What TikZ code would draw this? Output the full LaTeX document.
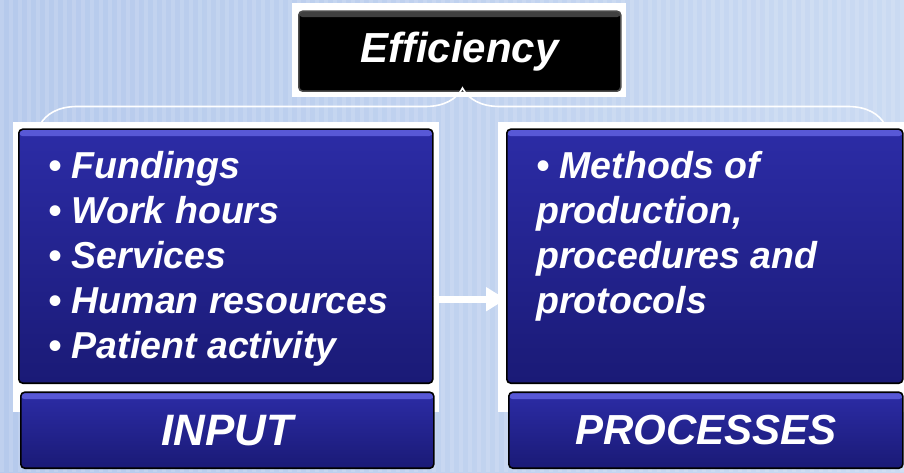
\documentclass[tikz,border=0pt]{standalone}
\usepackage{fontspec}
\setmainfont{Liberation Sans}
\usetikzlibrary{positioning,arrows.meta,decorations.pathreplacing}

\definecolor{slidebg}{RGB}{202,218,242}
\definecolor{slidebgdark}{RGB}{182,202,236}
\definecolor{boxtop}{RGB}{44,44,166}
\definecolor{boxbot}{RGB}{26,26,118}
\definecolor{bevel}{RGB}{88,88,214}

\begin{document}
\begin{tikzpicture}[
    x=1pt, y=1pt,
    frame/.style={fill=white, inner sep=0pt, anchor=south west},
    panel/.style={draw=black, line width=1.6pt, rounded corners=4pt, top color=boxtop, bottom color=boxbot,
        inner sep=0pt, anchor=south west, text=white, font=\fontsize{44}{50}\selectfont\bfseries\itshape,
        path picture={\fill[bevel] (path picture bounding box.north west) rectangle ([yshift=-7pt]path picture bounding box.north east);}},
    effbox/.style={draw=black!70, line width=1.6pt, rounded corners=4pt, fill=black, inner sep=0pt, anchor=south west,
        text=white, font=\fontsize{42}{48}\selectfont\bfseries\itshape,
        path picture={\fill[black!75] (path picture bounding box.north west) rectangle ([yshift=-6pt]path picture bounding box.north east);}},
    itemtext/.style={font=\fontsize{37.5}{43}\selectfont\bfseries\itshape, text=white, inner sep=0pt, anchor=base west},
    brace/.style={decorate, decoration={brace, amplitude=37pt}, draw=white, line width=1.6pt},
    arrow/.style={-{Triangle[length=20pt,width=23pt]}, line width=7pt, white}
]
\useasboundingbox (0,0) rectangle (904,472);
\clip (0,0) rectangle (904,472);

% slide background
\fill[left color=slidebgdark, right color=slidebg] (0,0) rectangle (904,472);
\foreach \x in {0,9,...,900}
    \fill[white, opacity=0.13] (\x,0) rectangle ++(4,472);

% white frames
\node[frame, minimum width=334pt, minimum height=94pt] (effframe) at (292,375) {};
\node[frame, minimum width=426pt, minimum height=290pt] (inframe) at (13,60) {};
\node[frame, minimum width=420pt, minimum height=290pt] (procframe) at (498,60) {};

% boxes
\node[effbox, minimum width=322pt, minimum height=80pt] (eff) at (298,380) {Efficiency};

\node[panel, minimum width=414pt, minimum height=254pt] (inbox) at (18,88) {};
\node[panel, minimum width=413pt, minimum height=76pt] (inlabel) at (20,3) {INPUT};

\node[panel, minimum width=396pt, minimum height=254pt] (procbox) at (506,88) {};
\node[panel, minimum width=394pt, minimum height=76pt, font=\fontsize{42}{48}\selectfont\bfseries\itshape] (proclabel) at (508,3) {PROCESSES};

% brace under Efficiency
\coordinate (bracel) at (40,347);
\coordinate (bracer) at (885,347);
\draw[brace] (bracel) -- (bracer);

% input items
\foreach \txt [count=\i] in {Fundings, Work hours, Services, Human resources, Patient activity}
    \node[itemtext] (item\i) at (48,339-45*\i) {\textbullet\ \txt};

% process text
\foreach \txt [count=\i] in {\textbullet\ Methods of, {production,}, procedures and, protocols}
    \node[itemtext] (meth\i) at (536,339-45*\i) {\txt};

\draw[arrow] ([yshift=-43pt]inbox.east) -- ([yshift=-43pt]procbox.west);
\end{tikzpicture}
\end{document}
